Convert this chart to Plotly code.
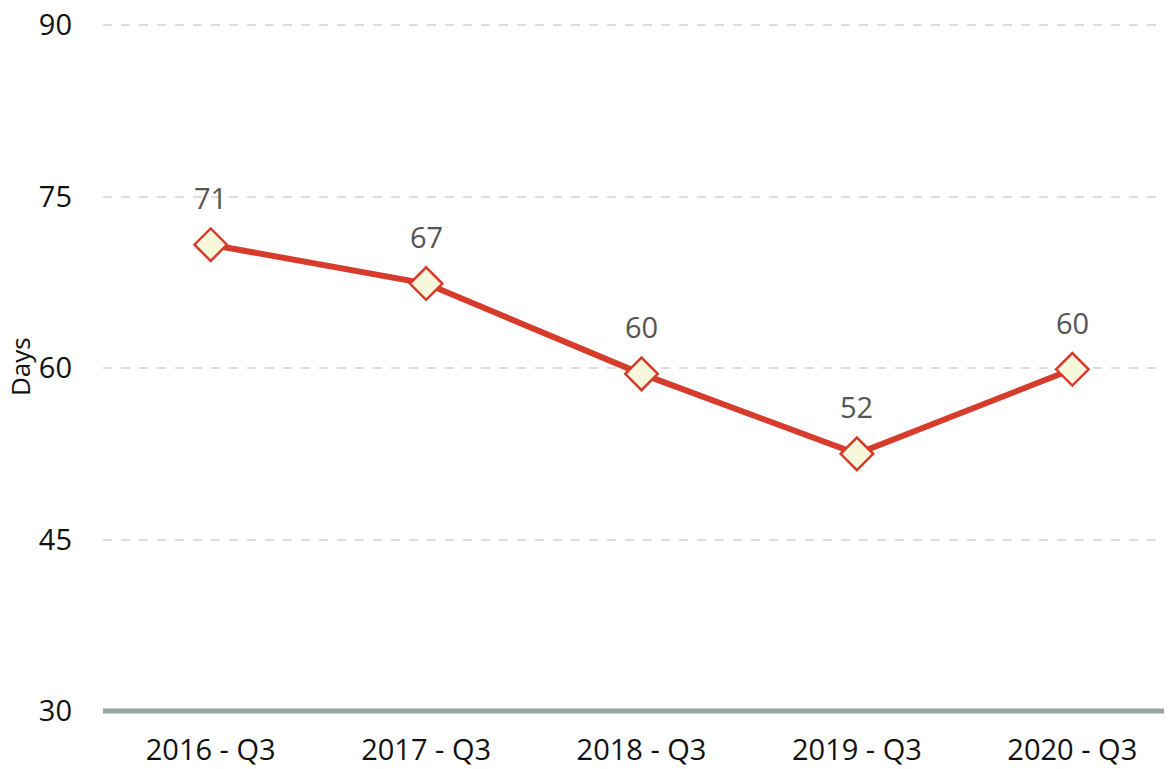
import plotly.graph_objects as go

categories = ["2016 - Q3", "2017 - Q3", "2018 - Q3", "2019 - Q3", "2020 - Q3"]
days = [70.8, 67.4, 59.5, 52.5, 59.9]
labels = ["71", "67", "60", "52", "60"]
y_ticks = [30, 45, 60, 75, 90]

FONT = "Open Sans"

fig = go.Figure()
fig.add_trace(go.Scatter(
    x=categories, y=days, mode="lines+markers",
    line=dict(color="#d63b2b", width=6),
    marker=dict(symbol="diamond", size=25, color="#f7f7dc",
                line=dict(color="#d63b2b", width=2.5)),
    hoverinfo="x+y", showlegend=False,
))
for c, v, t in zip(categories, days, labels):
    fig.add_annotation(x=c, y=v, text=t, showarrow=False, yshift=47,
                       font=dict(family=FONT, size=29, color="#555555"))

fig.add_annotation(text="Days", xref="paper", yref="paper", x=0, y=0.5,
                   xshift=-83, textangle=-90, showarrow=False,
                   xanchor="center", yanchor="middle",
                   font=dict(family=FONT, size=26, color="#111111"))

fig.update_layout(
    width=1172, height=769,
    margin=dict(l=95, r=0, t=15, b=66, autoexpand=False),
    paper_bgcolor="white", plot_bgcolor="white",
    font=dict(family=FONT, size=29, color="#111111"),
    xaxis=dict(type="category", range=[-0.5, 4.5], showgrid=False,
               ticks="", tickfont=dict(size=29), showline=False, zeroline=False,
               automargin=False, ticklabelstandoff=19, ticklabeloverflow="allow"),
    yaxis=dict(range=[30, 90.2], tickvals=y_ticks, showgrid=True,
               gridcolor="#dddddd", griddash="dash", gridwidth=1.5,
               zeroline=False, showline=False, ticks="", ticklabelstandoff=30,
               tickfont=dict(size=29), automargin=False, ticklabeloverflow="allow"),
)
fig.add_shape(type="line", xref="paper", yref="paper", x0=0, x1=1, y0=0, y1=0,
              line=dict(color="#93a89b", width=5), layer="above")
fig.write_html("out.html")
